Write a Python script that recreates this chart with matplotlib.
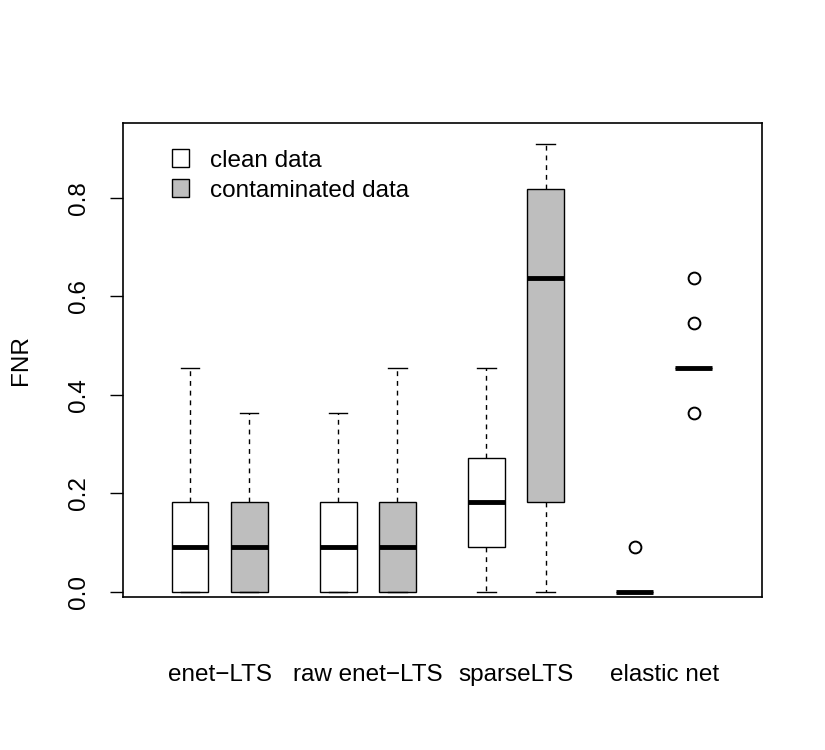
import matplotlib
matplotlib.use("Agg")
import matplotlib.pyplot as plt
from matplotlib.patches import Patch

plt.rcParams['font.family'] = ['Liberation Sans', 'DejaVu Sans']

groups = ["enet\u2212LTS", "raw enet\u2212LTS", "sparseLTS", "elastic net"]
conditions = ["clean data", "contaminated data"]
colors = ["white", "#bebebe"]

# (whislo, q1, med, q3, whishi, outliers) per group, per condition
clean_stats = [
    (0.0, 0.0, 0.0909, 0.1818, 0.4545, []),
    (0.0, 0.0, 0.0909, 0.1818, 0.3636, []),
    (0.0, 0.0909, 0.1818, 0.2727, 0.4545, []),
    (0.0, 0.0, 0.0, 0.0, 0.0, [0.0909]),
]
contam_stats = [
    (0.0, 0.0, 0.0909, 0.1818, 0.3636, []),
    (0.0, 0.0, 0.0909, 0.1818, 0.4545, []),
    (0.0, 0.1818, 0.6364, 0.8182, 0.9091, []),
    (0.4545, 0.4545, 0.4545, 0.4545, 0.4545, [0.6364, 0.5455, 0.3636]),
]

group_pos = [1.5, 4.0, 6.5, 9.0]
FS = 17.5

fig = plt.figure(figsize=(8.25, 7.5), dpi=100)
ax = fig.add_axes([0.1491, 0.204, 0.7745, 0.632])

def mk(s):
    return dict(whislo=s[0], q1=s[1], med=s[2], q3=s[3], whishi=s[4], fliers=s[5])

for i, (cs, ts) in enumerate(zip(clean_stats, contam_stats)):
    for j, (s, col) in enumerate(((cs, colors[0]), (ts, colors[1]))):
        pos = group_pos[i] - 0.5 + j
        ax.bxp([mk(s)], positions=[pos], widths=0.62, patch_artist=True,
               showfliers=True,
               boxprops=dict(facecolor=col, edgecolor='black', linewidth=1.0),
               medianprops=dict(color='black', linewidth=3.5, solid_capstyle='butt'),
               whiskerprops=dict(color='black', linestyle=(0, (3.5, 3.5)), linewidth=1.0),
               capprops=dict(color='black', linewidth=1.0),
               capwidths=0.31,
               flierprops=dict(marker='o', markerfacecolor='none', markeredgecolor='black',
                               markersize=8.5, markeredgewidth=1.4))

ax.set_xlim(-0.13, 10.65)
ax.set_ylim(-0.0102, 0.952)
ax.set_xticks([])
ax.set_yticks([0.0, 0.2, 0.4, 0.6, 0.8])
ax.set_yticklabels(["0.0", "0.2", "0.4", "0.6", "0.8"], rotation=90, va='center', fontsize=FS)
ax.tick_params(axis='y', length=9.5, width=1, pad=14)
for sp in ax.spines.values():
    sp.set_linewidth(1.2)

for g, p in zip(groups, group_pos):
    ax.text(p, -0.168, g, ha='center', va='center', fontsize=FS, transform=ax.transData)

ax.set_ylabel("FNR", fontsize=FS, labelpad=26)

handles = [Patch(facecolor=c, edgecolor='black', linewidth=1.0) for c in colors]
ax.legend(handles, conditions, loc='upper left', frameon=False, fontsize=FS,
          bbox_to_anchor=(0.05, 0.98), handlelength=0.72, handleheight=0.72,
          handletextpad=0.85, labelspacing=0.32, borderaxespad=0.3)

fig.savefig("out.png", dpi=100)
